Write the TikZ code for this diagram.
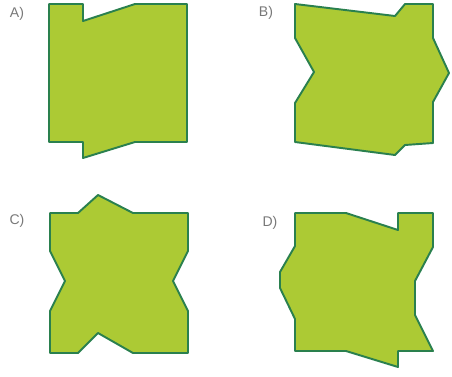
\documentclass[tikz,border=0pt]{standalone}
\usepackage{fontspec}
\setsansfont{Liberation Sans}
\definecolor{leaf}{RGB}{172,202,52}
\definecolor{rim}{RGB}{42,128,78}
\definecolor{lbl}{RGB}{120,120,120}

\begin{document}
\begin{tikzpicture}[x=0.02cm,y=-0.02cm,line cap=round,line join=round,
  piece/.style={fill=leaf,draw=rim,line width=1.1pt},
  tag/.style={inner sep=1pt,text=lbl,font=\sffamily\fontsize{8}{9}\selectfont}]
  \useasboundingbox (0,0) rectangle (452,376);
  % A
  \draw[piece] (49,4) -- (83,4) -- (83,21) -- (135,4) -- (187,4) -- (187,142)
    -- (135,142) -- (83,158) -- (83,142) -- (49,142) -- cycle;
  % B
  \draw[piece] (295,4) -- (395,16) -- (405,4) -- (433,4) -- (433,38) -- (449,73)
    -- (433,102) -- (433,143) -- (405,145) -- (395,155) -- (295,142) -- (295,103)
    -- (314,72) -- (295,38) -- cycle;
  % C
  \draw[piece] (50,213) -- (78,213) -- (98,195) -- (133,213) -- (188,213) -- (188,251)
    -- (173,281) -- (188,311) -- (188,353) -- (133,353) -- (98,333) -- (78,353)
    -- (50,353) -- (50,311) -- (65,281) -- (50,251) -- cycle;
  % D
  \draw[piece] (295,213) -- (346,213) -- (398,230) -- (398,213) -- (433,213) -- (433,247)
    -- (415,281) -- (415,315) -- (433,351) -- (398,351) -- (398,367) -- (346,351)
    -- (295,351) -- (295,319) -- (280,288) -- (280,272) -- (295,246) -- cycle;
  \node[tag] (la) at (17,14) {A)};
  \node[tag] (lb) at (266,13) {B)};
  \node[tag] (lc) at (17,221) {C)};
  \node[tag] (ld) at (270,223) {D)};
\end{tikzpicture}
\end{document}
